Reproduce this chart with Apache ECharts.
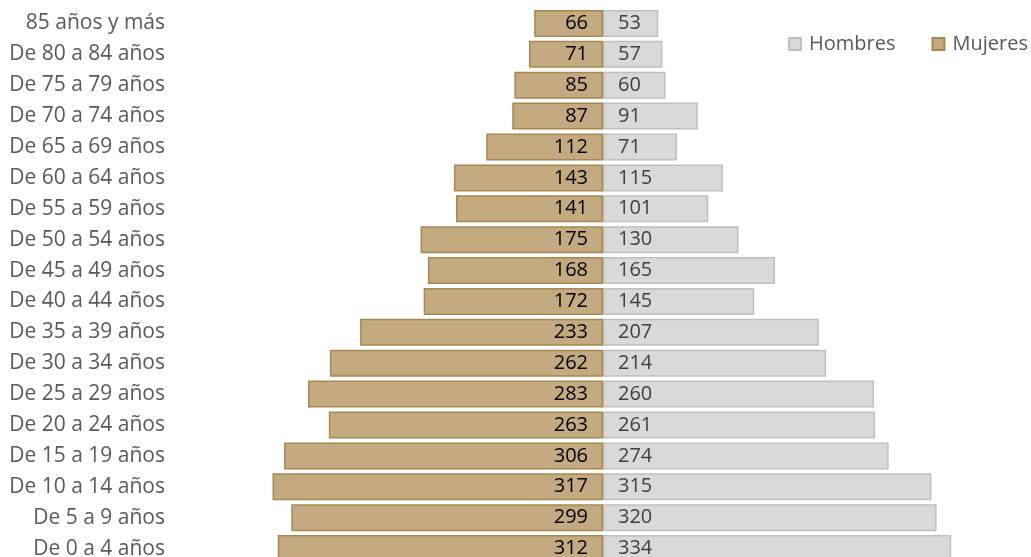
<!DOCTYPE html>
<html>
<head>
<meta charset="utf-8">
<script src="https://cdn.jsdelivr.net/npm/echarts@6/dist/echarts.min.js"></script>
<style>
html,body{margin:0;padding:0;background:#fff;overflow:hidden;}
#chart{width:1031px;height:580px;}
</style>
</head>
<body>
<div id="chart"></div>
<script>
const categories = ["De 0 a 4 años","De 5 a 9 años","De 10 a 14 años","De 15 a 19 años","De 20 a 24 años","De 25 a 29 años","De 30 a 34 años","De 35 a 39 años","De 40 a 44 años","De 45 a 49 años","De 50 a 54 años","De 55 a 59 años","De 60 a 64 años","De 65 a 69 años","De 70 a 74 años","De 75 a 79 años","De 80 a 84 años","85 años y más"];
const mujeres = [312,299,317,306,263,283,262,233,172,168,175,141,143,112,87,85,71,66];
const hombres = [334,320,315,274,261,260,214,207,145,165,130,101,115,71,91,60,57,53];

const FONT = "Open Sans";
const chart = echarts.init(document.getElementById('chart'), null, {renderer:'canvas'});
chart.setOption({
  animation:false,
  backgroundColor:'#ffffff',
  textStyle:{fontFamily:FONT},
  legend:{
    data:['Hombres','Mujeres'],
    left:788, top:34, padding:0,
    itemWidth:12, itemHeight:12, itemGap:36,
    icon:'rect',
    textStyle:{fontFamily:FONT,fontSize:20,color:'#595959',padding:[0,0,0,3]}
  },
  grid:{left:186,right:11,top:8,height:556,containLabel:false},
  xAxis:{
    type:'value', min:-400, max:400,
    show:false, splitLine:{show:false}
  },
  yAxis:{
    type:'category', data:categories,
    axisLine:{show:false,onZero:false}, axisTick:{show:false},
    axisLabel:{fontFamily:FONT,fontSize:21,color:'#595959',margin:21,align:'right'}
  },
  series:[
    {
      name:'Hombres', type:'bar', stack:'p', barWidth:27,
      data:hombres,
      itemStyle:{color:'#D9D9D9',borderColor:'#BFBFBF',borderWidth:1.5},
      label:{show:true,position:'insideLeft',distance:15,fontFamily:FONT,fontSize:20,color:'#404040'}
    },
    {
      name:'Mujeres', type:'bar', stack:'p', barWidth:27,
      data:mujeres.map(v=>-v),
      itemStyle:{color:'#C4AA80',borderColor:'#A8884E',borderWidth:1.5},
      label:{show:true,position:'insideRight',distance:15,fontFamily:FONT,fontSize:20,color:'#000000',
        formatter:p=>Math.abs(p.value)}
    }
  ]
});
</script>
</body>
</html>
